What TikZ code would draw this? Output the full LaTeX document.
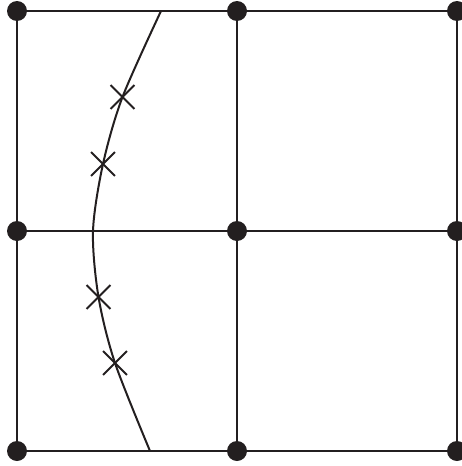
\documentclass[tikz,border=0pt]{standalone}
\usetikzlibrary{shapes.misc}
\definecolor{ink}{HTML}{231F20}
\tikzset{
  dot/.style={circle, fill=ink, inner sep=0pt, minimum size=20pt},
  edge/.style={draw=ink, line width=2pt},
  crossmark/.style={cross out, draw=ink, line width=1.8pt, minimum size=22pt, inner sep=0pt}
}
\begin{document}
\begin{tikzpicture}[x=1pt, y=-1pt]
  \useasboundingbox (0,0) rectangle (462,466);
  % grid points
  \foreach \i/\x in {0/17, 1/237, 2/457}
    \foreach \j/\y in {0/11, 1/231, 2/451}
      \coordinate (p\i\j) at (\x,\y);
  \foreach \j in {0,1,2} \draw[edge] (p0\j) -- (p2\j);
  \foreach \i in {0,1,2} \draw[edge] (p\i0) -- (p\i2);
  % the curve and its marks
  \coordinate (ctop) at (161,11);
  \coordinate (cmid) at (93,231);
  \coordinate (cbot) at (150,451);
  \node[crossmark] (m1) at (122.5,97) {};
  \node[crossmark] (m2) at (103,164) {};
  \node[crossmark] (m3) at (98.5,297) {};
  \node[crossmark] (m4) at (115,363) {};
  \draw[edge] plot[smooth] coordinates {(ctop) (m1.center) (m2.center) (cmid) (m3.center) (m4.center) (cbot)};
  \foreach \i in {0,1,2}
    \foreach \j in {0,1,2}
      \node[dot] (d\i\j) at (p\i\j) {};
\end{tikzpicture}
\end{document}
